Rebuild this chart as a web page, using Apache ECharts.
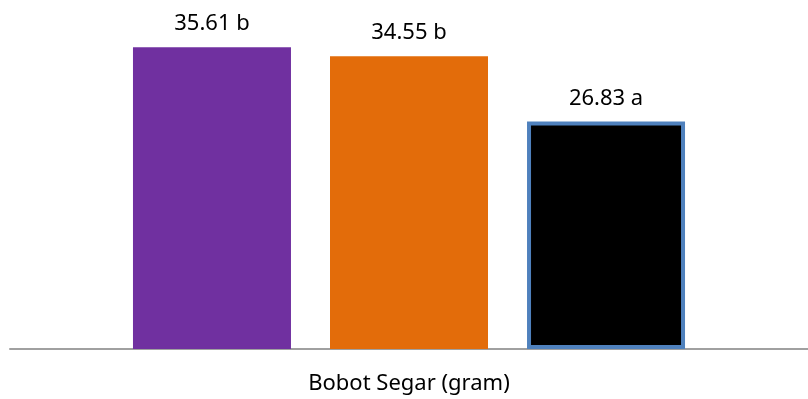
<!DOCTYPE html>
<html>
<head>
<meta charset="utf-8">
<script src="https://cdn.jsdelivr.net/npm/echarts@6/dist/echarts.min.js"></script>
<style>
    html, body { margin: 0; padding: 0; background: #fff; }
    #main { width: 808px; height: 399px; }
</style>
</head>
<body>
<div id="main"></div>
<script>
    var categories = ['Bobot Segar (gram)'];
    var values = [35.61, 34.55, 26.83];
    var letters = ['b', 'b', 'a'];
    var colors = ['#7030A0', '#E36C0A', '#000000'];

    var chart = echarts.init(document.getElementById('main'));

    // one series per bar so they sit side by side in the single category
    var series = values.map(function (v, i) {
        return {
            type: 'bar',
            data: [v],
            barWidth: 158,
            barGap: '24.7%',
            itemStyle: {
                color: colors[i],
                borderColor: i === 2 ? '#4F81BD' : 'transparent',
                borderWidth: i === 2 ? 4 : 0
            },
            label: {
                show: true,
                position: 'top',
                distance: 12,
                fontFamily: 'Noto Sans',
                fontSize: 22,
                color: '#000',
                formatter: function () {
                    return v.toFixed(2) + ' ' + letters[i];
                }
            }
        };
    });

    chart.setOption({
        animation: false,
        grid: { left: 10, right: 0, top: 10, bottom: 50 },
        xAxis: {
            type: 'category',
            data: categories,
            axisLine: { lineStyle: { color: '#A0A0A0', width: 2 } },
            axisTick: { show: false },
            axisLabel: {
                margin: 24,
                fontFamily: 'Noto Sans',
                fontSize: 22,
                color: '#000'
            }
        },
        yAxis: {
            type: 'value',
            min: 0,
            max: 40,
            show: false
        },
        series: series
    });
</script>
</body>
</html>
